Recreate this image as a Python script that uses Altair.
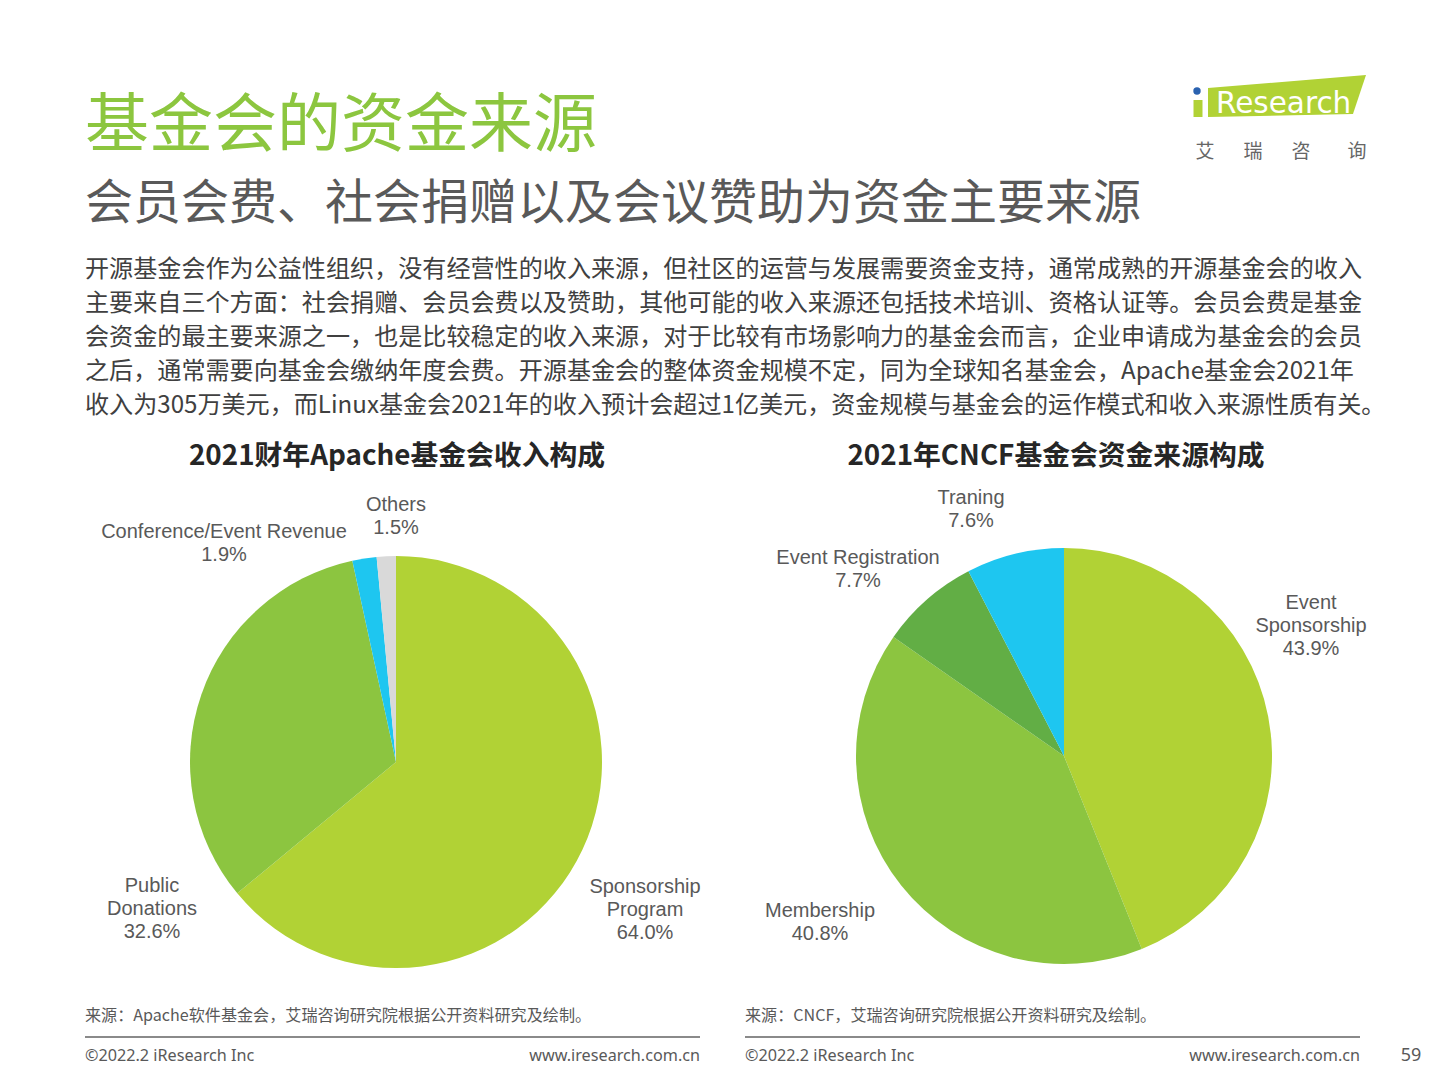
import altair as alt
import pandas as pd

# ---------------- data ----------------
apache_cats = ["Sponsorship Program", "Public Donations", "Conference/Event Revenue", "Others"]
apache_disp = ["Sponsorship\nProgram", "Public\nDonations", "Conference/Event Revenue", "Others"]
apache_vals = [64.0, 32.6, 1.9, 1.5]
apache_colors = ["#b1d235", "#8cc540", "#1ec6f0", "#d9d9d9"]

cncf_cats = ["Event Sponsorship", "Membership", "Event Registration", "Traning"]
cncf_disp = ["Event\nSponsorship", "Membership", "Event Registration", "Traning"]
cncf_vals = [43.9, 40.8, 7.7, 7.6]
cncf_colors = ["#b1d235", "#8cc540", "#62ae45", "#1ec6f0"]

title = "基金会的资金来源"
subtitle = "会员会费、社会捐赠以及会议赞助为资金主要来源"
para_lines = [
    "开源基金会作为公益性组织，没有经营性的收入来源，但社区的运营与发展需要资金支持，通常成熟的开源基金会的收入",
    "主要来自三个方面：社会捐赠、会员会费以及赞助，其他可能的收入来源还包括技术培训、资格认证等。会员会费是基金",
    "会资金的最主要来源之一，也是比较稳定的收入来源，对于比较有市场影响力的基金会而言，企业申请成为基金会的会员",
    "之后，通常需要向基金会缴纳年度会费。开源基金会的整体资金规模不定，同为全球知名基金会，Apache基金会2021年",
    "收入为305万美元，而Linux基金会2021年的收入预计会超过1亿美元，资金规模与基金会的运作模式和收入来源性质有关。",
]
chart1_title = "2021财年Apache基金会收入构成"
chart2_title = "2021年CNCF基金会资金来源构成"
source1 = "来源：Apache软件基金会，艾瑞咨询研究院根据公开资料研究及绘制。"
source2 = "来源：CNCF，艾瑞咨询研究院根据公开资料研究及绘制。"
footer_left = "©2022.2 iResearch Inc"
footer_right = "www.iresearch.com.cn"
page_no = "59"
logo_text = "Research"
logo_cn = ["艾", "瑞", "咨", "询"]

# ---------------- helpers ----------------
M = 8  # page margin


def df_pie(cats, disp, vals):
    return pd.DataFrame({
        "cat": cats,
        "val": vals,
        "k": list(range(len(cats))),
        "label": [d + "\n" + f"{v:.1f}%" for d, v in zip(disp, vals)],
    })


def txt(s, x, y, size, color, font="Noto Sans CJK SC", weight="normal", align="left", baseline="middle"):
    return alt.Chart(pd.DataFrame({"t": [s]})).mark_text(
        font=font, fontSize=size, fontWeight=weight, color=color, align=align, baseline=baseline
    ).encode(x=alt.value(x - M), y=alt.value(y - M), text="t:N")


def rule(x1, x2, y, color="#8a8a8a", width=2):
    return alt.Chart(pd.DataFrame({"a": [0]})).mark_rule(color=color, strokeWidth=width).encode(
        x=alt.value(x1 - M), x2=alt.value(x2 - M), y=alt.value(y - M)
    )


def pie(df, cats, colors, cx, cy, r):
    return alt.Chart(df).mark_arc(outerRadius=r).encode(
        theta=alt.Theta("val:Q", stack=True),
        color=alt.Color("cat:N", scale=alt.Scale(domain=cats, range=colors), legend=None),
        order=alt.Order("k:Q", sort="ascending"),
        x=alt.value(cx - M),
        y=alt.value(cy - M),
    )


def pie_label(df, cat, x, y):
    return alt.Chart(df).transform_filter(alt.datum.cat == cat).mark_text(
        font="Liberation Sans", fontSize=20, color="#595959", align="center",
        baseline="alphabetic", lineBreak="\n", lineHeight=23
    ).encode(x=alt.value(x - M), y=alt.value(y + 7 - M), text="label:N")


apache_df = df_pie(apache_cats, apache_disp, apache_vals)
cncf_df = df_pie(cncf_cats, cncf_disp, cncf_vals)

layers = []

# header
layers.append(txt(title, 85, 127, 64, "#8cc63f"))
layers.append(txt(subtitle, 85, 205, 48, "#595959"))
for i, line in enumerate(para_lines):
    layers.append(txt(line, 85, 270 + 34 * i, 24.1, "#404040"))

# logo
logo_shape = "M -1 -0.10 L 1 -0.266 L 0.835 0.228 L -1 0.266 Z"
layers.append(alt.Chart(pd.DataFrame({"a": [0]})).mark_point(
    shape=logo_shape, filled=True, size=24964, color="#b1d235", opacity=1, strokeWidth=0
).encode(x=alt.value(1287 - M), y=alt.value(96 - M)))
layers.append(alt.Chart(pd.DataFrame({"a": [0]})).mark_rule(color="#b1d235", strokeWidth=9).encode(
    x=alt.value(1198 - M), y=alt.value(100 - M), y2=alt.value(117 - M)))
layers.append(alt.Chart(pd.DataFrame({"a": [0]})).mark_point(
    shape="circle", filled=True, size=55, color="#2a62b0", opacity=1
).encode(x=alt.value(1197 - M), y=alt.value(91 - M)))
layers.append(txt(logo_text, 1216, 113, 29.5, "white", font="DejaVu Sans", baseline="alphabetic"))
for ch, cx in zip(logo_cn, [1205, 1253, 1301, 1357]):
    layers.append(txt(ch, cx, 152, 19, "#666666", align="center"))

# chart titles
layers.append(txt(chart1_title, 397, 457, 27.8, "#262626", weight="bold", align="center"))
layers.append(txt(chart2_title, 1056, 457, 27.8, "#262626", weight="bold", align="center"))

# pies
layers.append(pie(apache_df, apache_cats, apache_colors, 396, 762, 206))
layers.append(pie(cncf_df, cncf_cats, cncf_colors, 1064, 756, 208))

# pie labels
layers.append(pie_label(apache_df, "Sponsorship Program", 645, 886))
layers.append(pie_label(apache_df, "Public Donations", 152, 885))
layers.append(pie_label(apache_df, "Conference/Event Revenue", 224, 531))
layers.append(pie_label(apache_df, "Others", 396, 504))
layers.append(pie_label(cncf_df, "Event Sponsorship", 1311, 602))
layers.append(pie_label(cncf_df, "Membership", 820, 910))
layers.append(pie_label(cncf_df, "Event Registration", 858, 557))
layers.append(pie_label(cncf_df, "Traning", 971, 497))

# sources and footer
layers.append(txt(source1, 85, 1016, 16.1, "#595959"))
layers.append(txt(source2, 745, 1016, 16.1, "#595959"))
layers.append(rule(85, 700, 1037))
layers.append(rule(745, 1360, 1037))
layers.append(txt(footer_left, 85, 1056, 16.2, "#595959", font="Noto Sans"))
layers.append(txt(footer_right, 700, 1056, 16.2, "#595959", font="Noto Sans", align="right"))
layers.append(txt(footer_left, 745, 1056, 16.2, "#595959", font="Noto Sans"))
layers.append(txt(footer_right, 1360, 1056, 16.2, "#595959", font="Noto Sans", align="right"))
layers.append(txt(page_no, 1411, 1056, 18, "#595959", font="Noto Sans", align="center"))

chart = alt.layer(*layers).resolve_scale(
    theta="independent", color="independent"
).properties(
    width=1424, height=1064, padding=0,
    autosize=alt.AutoSizeParams(type="none"),
).configure_view(stroke=None)

chart.save("out.html", embed_options={"renderer": "svg", "actions": False})
